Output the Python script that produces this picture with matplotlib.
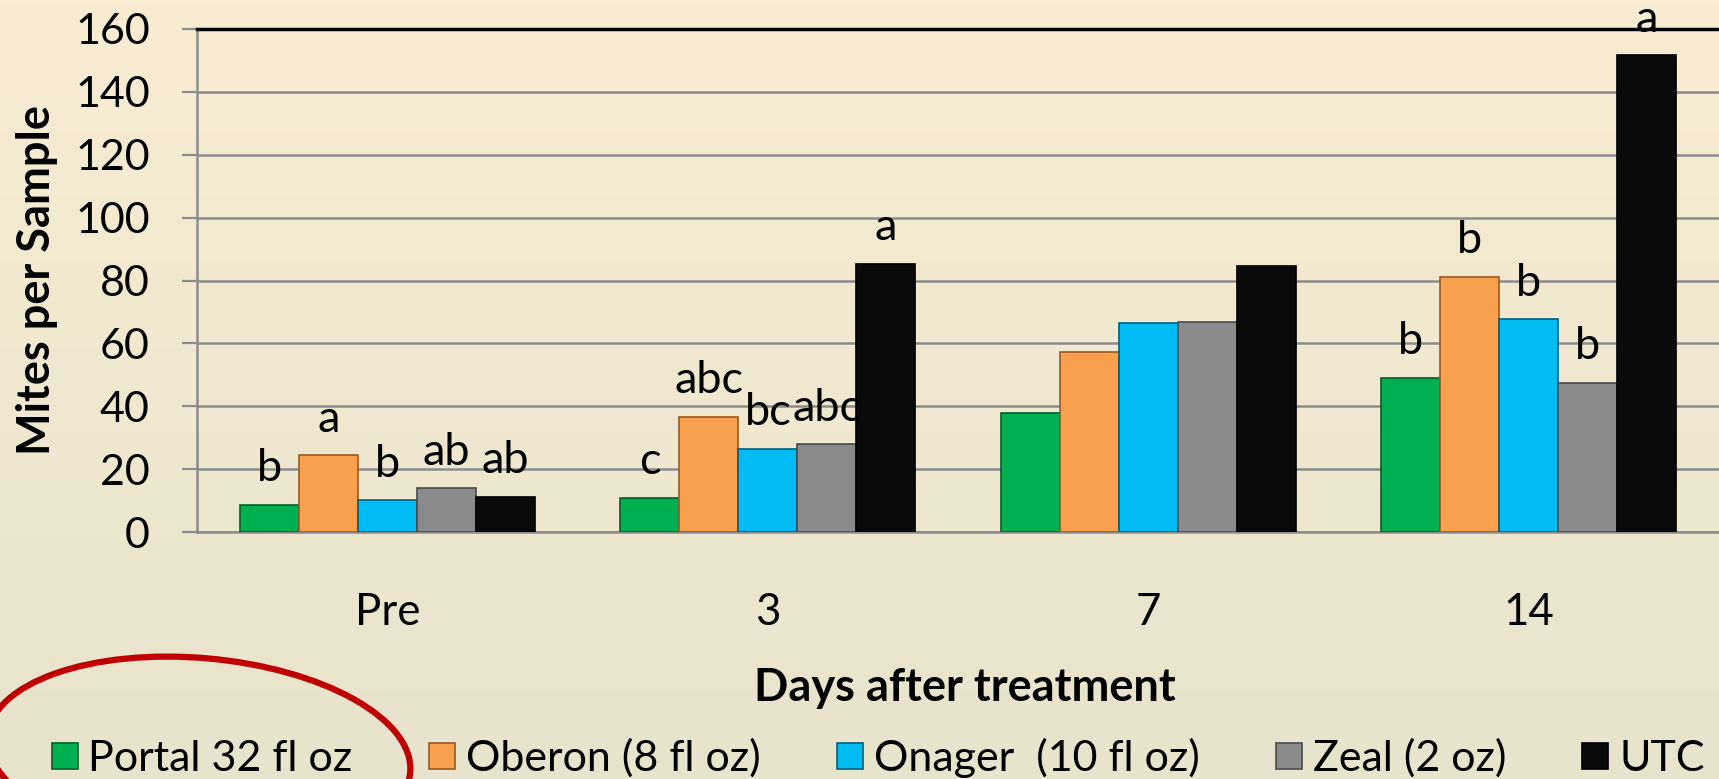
import numpy as np
import matplotlib
matplotlib.use("Agg")
import matplotlib.pyplot as plt
from matplotlib.lines import Line2D
from matplotlib.patches import Ellipse

# ---- data ----
categories = ["Pre", "3", "7", "14"]
series_names = ["Portal 32 fl oz", "Oberon (8 fl oz)", "Onager  (10 fl oz)", "Zeal (2 oz)", "UTC"]
portal = [8.7, 10.8, 38.0, 49.1]
oberon = [24.4, 36.6, 57.2, 81.2]
onager = [10.1, 26.5, 66.6, 67.6]
zeal = [13.9, 27.9, 66.9, 47.4]
utc = [11.2, 85.4, 84.7, 151.6]
letters_portal = ["b", "c", "", "b"]
letters_oberon = ["a", "abc", "", "b"]
letters_onager = ["b", "bc", "", "b"]
letters_zeal = ["ab", "abc", "", "b"]
letters_utc = ["ab", "a", "", "a"]
y_ticks = [0, 20, 40, 60, 80, 100, 120, 140, 160]

series = [portal, oberon, onager, zeal, utc]
letters = [letters_portal, letters_oberon, letters_onager, letters_zeal, letters_utc]
colors = ["#00B050", "#F9A04E", "#00BCF2", "#8A8A8A", "#0A0A0A"]
edges = ["#00602C", "#9A5A20", "#00607E", "#4A4A4A", "#000000"]

FONT = "Lato"
plt.rcParams["font.family"] = [FONT, "DejaVu Sans"]

W, H = 1719, 779
fig = plt.figure(figsize=(W / 100, H / 100), dpi=100)

# background gradient
bg = fig.add_axes([0, 0, 1, 1], zorder=-10)
top = np.array([248, 236, 211]) / 255
bot = np.array([232, 227, 205]) / 255
t = np.linspace(0, 1, 256)[:, None]
grad = (top[None, :] * (1 - t) + bot[None, :] * t)[:, None, :]
bg.imshow(grad, aspect="auto", extent=[0, 1, 0, 1])
bg.axis("off")

left, right = 197 / W, 1.0
bottom, topy = 1 - 532 / H, 1 - 29 / H
ax = fig.add_axes([left, bottom, right - left, topy - bottom])
ax.set_facecolor("none")

x = np.arange(len(categories))
bw = 0.155
for i, (vals, col, ec, labs) in enumerate(zip(series, colors, edges, letters)):
    pos = x + (i - 2) * bw
    bars = ax.bar(pos, vals, width=bw, color=col, edgecolor=ec, linewidth=1.2,
                  zorder=3, label=series_names[i])
    for b, lab in zip(bars, labs):
        if lab:
            ax.annotate(lab, (b.get_x() + b.get_width() / 2, b.get_height()),
                        xytext=(0, 17), textcoords="offset points",
                        ha="center", va="baseline", fontsize=32.5, color="black",
                        annotation_clip=False, zorder=5)

ax.set_xlim(-0.5, 3.5)
ax.set_ylim(0, 160)
ax.set_yticks(y_ticks)
ax.set_xticks(x)
ax.set_xticklabels(categories, fontsize=31.5)
ax.tick_params(axis="x", length=0, pad=43)
ax.tick_params(axis="y", labelsize=31, length=11, width=1.6, color="#8C8C8C", pad=23)
ax.yaxis.grid(True, color="#8C8C8C", linewidth=1.8, zorder=0)
ax.set_axisbelow(True)
ax.spines["right"].set_visible(False)
ax.spines["left"].set_color("#8C8C8C")
ax.spines["left"].set_linewidth(1.8)
ax.spines["bottom"].set_color("#8C8C8C")
ax.spines["bottom"].set_linewidth(1.8)
ax.spines["top"].set_color("black")
ax.spines["top"].set_linewidth(2.5)

ax.set_ylabel("Mites per Sample", fontsize=32.5, fontweight="bold", labelpad=12)
fig.text(965 / W, 1 - 688 / H, "Days after treatment", fontsize=32.5, fontweight="bold",
         ha="center", va="center")

handles = [Line2D([], [], marker="s", linestyle="none", markersize=19,
                  markerfacecolor=c, markeredgecolor=e, markeredgewidth=1.2)
           for c, e in zip(colors, edges)]
fig.legend(handles, series_names, loc="center", bbox_to_anchor=(876 / W, 1 - 758 / H),
           ncol=5, frameon=False, fontsize=31, handletextpad=0.15, columnspacing=1.68,
           handlelength=0.8, borderaxespad=0)

# red hand-drawn ellipse highlight
ov = fig.add_axes([0, 0, 1, 1], zorder=20)
ov.set_xlim(0, W)
ov.set_ylim(H, 0)
ov.axis("off")
ov.add_patch(Ellipse((199, 754), 424, 192, angle=5, fill=False, edgecolor="#C00000", linewidth=4.5))

fig.savefig("out.png", dpi=100)
